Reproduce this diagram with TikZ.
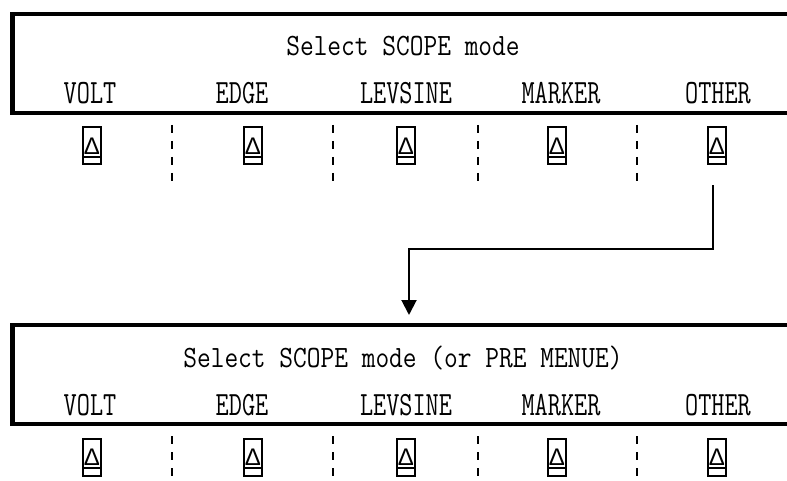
\documentclass[tikz,border=0pt]{standalone}
\usepackage{fontspec}
\newfontfamily\titlefont{Latin Modern Mono}[FakeStretch=0.86]
\newfontfamily\labelfont{Latin Modern Mono}[FakeStretch=0.75]
\newfontfamily\deltafont{Liberation Sans}
\usetikzlibrary{arrows.meta}
\begin{document}
\begin{tikzpicture}[x=1pt,y=-1pt,
  frame/.style={line width=4.8pt, line join=miter},
  ttl/.style={anchor=base, font=\titlefont\fontsize{31}{31}\selectfont, inner sep=0pt},
  lbl/.style={anchor=base, font=\labelfont\fontsize{34}{34}\selectfont, inner sep=0pt},
  keybox/.style={draw, line width=2pt, minimum width=18pt, minimum height=37pt, inner sep=0pt,
    font=\deltafont\fontsize{24}{24}\selectfont,
    path picture={\draw[line width=1.5pt] ([yshift=-11pt]path picture bounding box.west) -- ([yshift=-11pt]path picture bounding box.east);}},
  sep/.style={line width=2.5pt, dash pattern=on 8pt off 8pt},
  conn/.style={line width=2pt, -{Triangle[width=15pt,length=15pt]}}
]
\useasboundingbox (0,0) rectangle (787,481);

% ---------- top menu ----------
\draw[frame] (787,14) -- (12.5,14) -- (12.5,113) -- (787,113);
\node[ttl] (t1) at (403,56) {Select SCOPE mode};
\node[lbl] (a1) at (90,104) {VOLT};
\node[lbl] (a2) at (242,104) {EDGE};
\node[lbl] (a3) at (406,104) {LEVSINE};
\node[lbl] (a4) at (561,104) {MARKER};
\node[lbl] (a5) at (718,104) {OTHER};
\node[keybox] (k1) at (92,146) {Δ};
\node[keybox] (k2) at (253,146) {Δ};
\node[keybox] (k3) at (406,146) {Δ};
\node[keybox] (k4) at (557,146) {Δ};
\node[keybox] (k5) at (717,146) {Δ};
\foreach \x in {172,333,478,637} \draw[sep] (\x,125) -- (\x,181);

% ---------- bottom menu ----------
\draw[frame] (787,325) -- (12.5,325) -- (12.5,424) -- (787,424);
\node[ttl] (t2) at (403,367) {Select SCOPE mode (or PRE MENUE)};
\node[lbl] (b1) at (90,415) {VOLT};
\node[lbl] (b2) at (242,415) {EDGE};
\node[lbl] (b3) at (406,415) {LEVSINE};
\node[lbl] (b4) at (561,415) {MARKER};
\node[lbl] (b5) at (718,415) {OTHER};
\node[keybox] (m1) at (92,457) {Δ};
\node[keybox] (m2) at (253,457) {Δ};
\node[keybox] (m3) at (406,457) {Δ};
\node[keybox] (m4) at (557,457) {Δ};
\node[keybox] (m5) at (717,457) {Δ};
\foreach \x in {172,333,478,637} \draw[sep] (\x,436) -- (\x,484);

% ---------- connector ----------
\coordinate (bend) at (409,249);
\coordinate (btop) at (409,325);
\draw[conn] ([xshift=-4pt,yshift=-20pt]k5.south) |- (bend) -- ([yshift=10pt]btop);
\end{tikzpicture}
\end{document}
